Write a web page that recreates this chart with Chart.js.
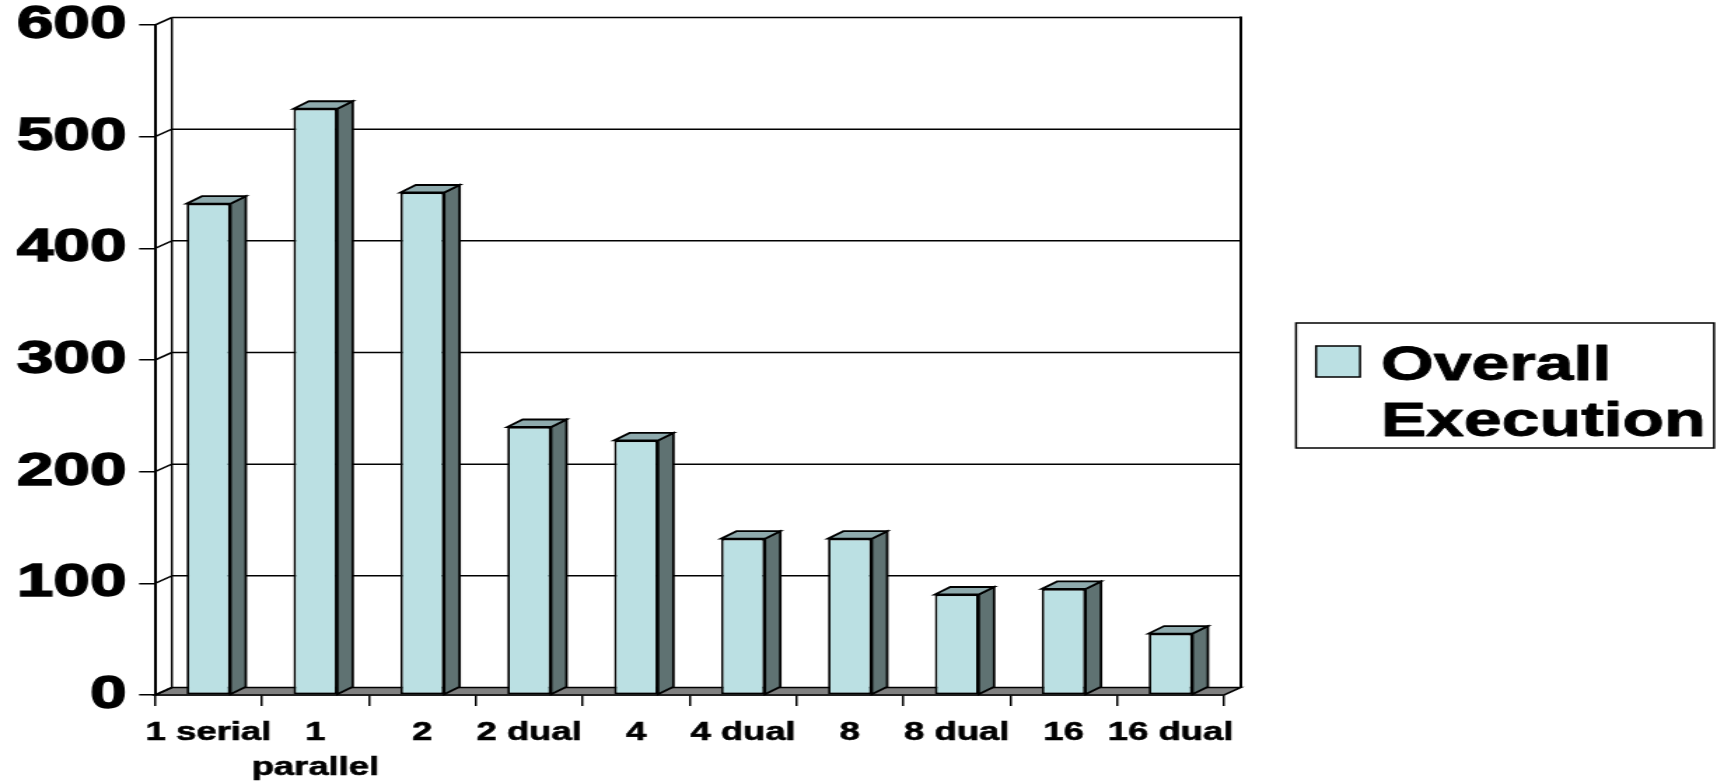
<!DOCTYPE html>
<html>
<head>
<meta charset="utf-8">
<title>Overall Execution</title>
<script src="https://cdn.jsdelivr.net/npm/chart.js@4.4.1/dist/chart.umd.min.js"></script>
<style>
  html, body { margin: 0; padding: 0; background: #ffffff; overflow: hidden; }
  /* the chart is laid out narrow and widened horizontally, like a stretched slide graphic */
  #wrap {
    position: absolute; left: 0; top: 0;
    width: 1226px; height: 782px;
    transform: scaleX(1.40049); transform-origin: 0 0;
  }
</style>
</head>
<body>
<div id="wrap"><canvas id="chart"></canvas></div>
<script>
// ---- data ----
const categories = [['1 serial'], ['1', 'parallel'], ['2'], ['2 dual'], ['4'], ['4 dual'], ['8'], ['8 dual'], ['16'], ['16 dual']];
const executionTimes = [440, 525, 450, 240, 228, 140, 140, 90, 95, 55];
const seriesName = 'Overall Execution';
const yTicks = [0, 100, 200, 300, 400, 500, 600];

// ---- style ----
const FONT = "'Liberation Sans', Arial, sans-serif";
const FRONT = '#bbe0e3';
const SIDE = '#5f7272';
const TOP = '#8eaaad';
const FLOOR = '#808080';
const WALL_DX = 12, WALL_DY = 7.5;   // depth of the back wall
const BAR_DX = 11, BAR_DY = 7.5;     // depth of each bar

function seg(ctx, x1, y1, x2, y2) {
  ctx.beginPath(); ctx.moveTo(x1, y1); ctx.lineTo(x2, y2); ctx.stroke();
}
function face(ctx, pts, fill) {
  ctx.beginPath();
  ctx.moveTo(pts[0][0], pts[0][1]);
  for (let i = 1; i < pts.length; i++) ctx.lineTo(pts[i][0], pts[i][1]);
  ctx.closePath();
  ctx.fillStyle = fill; ctx.fill(); ctx.stroke();
}
// keep the plot frame fixed: labels may overhang the frame edges
function noOverhang(scale) {
  scale.paddingTop = 0; scale.paddingBottom = 0;
  scale.paddingLeft = 0; scale.paddingRight = 0;
}

// floor, back wall and side wall of the 3-D frame, then the bar tops and sides
const depthPlugin = {
  id: 'depth3d',
  beforeDatasetsDraw(chart) {
    const { ctx, chartArea: a, scales: { y } } = chart;
    const y0 = y.getPixelForValue(0);
    const yTop = y.getPixelForValue(y.max);
    ctx.save();
    ctx.strokeStyle = '#000'; ctx.lineWidth = 1.5; ctx.lineJoin = 'miter';
    face(ctx, [[a.left, y0], [a.right, y0], [a.right + WALL_DX, y0 - WALL_DY], [a.left + WALL_DX, y0 - WALL_DY]], FLOOR);
    y.ticks.forEach(t => {
      const py = y.getPixelForValue(t.value);
      seg(ctx, a.left, py, a.left + WALL_DX, py - WALL_DY);
      if (t.value !== 0) seg(ctx, a.left + WALL_DX, py - WALL_DY, a.right + WALL_DX, py - WALL_DY);
    });
    seg(ctx, a.left + WALL_DX, yTop - WALL_DY, a.left + WALL_DX, y0 - WALL_DY);
    ctx.lineWidth = 2;
    seg(ctx, a.right + WALL_DX, yTop - WALL_DY - 1, a.right + WALL_DX, y0 - WALL_DY);
    ctx.restore();
  },
  afterDatasetsDraw(chart) {
    const { ctx } = chart;
    ctx.save();
    ctx.strokeStyle = '#000'; ctx.lineWidth = 1.8; ctx.lineJoin = 'miter';
    chart.getDatasetMeta(0).data.forEach(bar => {
      const { x, y, base, width } = bar.getProps(['x', 'y', 'base', 'width'], true);
      const l = x - width / 2, r = x + width / 2;
      face(ctx, [[r, base], [r, y], [r + BAR_DX, y - BAR_DY], [r + BAR_DX, base - BAR_DY]], SIDE);
      face(ctx, [[l, y], [r, y], [r + BAR_DX, y - BAR_DY], [l + BAR_DX, y - BAR_DY]], TOP);
    });
    ctx.restore();
  }
};

// boxed legend on the right, series name broken over two lines
const boxLegend = {
  id: 'boxLegend',
  afterDraw(chart) {
    const { ctx } = chart;
    const ds = chart.data.datasets[0];
    ctx.save();
    ctx.strokeStyle = '#000'; ctx.lineWidth = 1.5;
    ctx.fillStyle = '#fff';
    ctx.fillRect(925.4, 323, 298.5, 125);
    ctx.strokeRect(925.4, 323, 298.5, 125);
    ctx.fillStyle = ds.backgroundColor;
    ctx.fillRect(939.7, 346, 31.4, 31);
    ctx.strokeRect(939.7, 346, 31.4, 31);
    ctx.fillStyle = '#000';
    ctx.lineWidth = 0.9;
    ctx.lineJoin = 'round';
    ctx.font = 'bold 48.5px ' + FONT;
    ctx.textBaseline = 'alphabetic';
    ctx.textAlign = 'left';
    const words = ds.label.split(' ');
    const lines = [[words[0], 380], [words.slice(1).join(' '), 436]];
    lines.forEach(([txt, by]) => {
      ctx.fillText(txt, 986, by);
      ctx.strokeText(txt, 986, by);
    });
    ctx.restore();
  }
};

new Chart(document.getElementById('chart'), {
  type: 'bar',
  data: {
    labels: categories,
    datasets: [{
      label: seriesName,
      data: executionTimes,
      backgroundColor: FRONT,
      borderColor: '#000',
      borderWidth: 1.8,
      borderSkipped: false,
      barPercentage: 0.41,
      categoryPercentage: 1.0
    }]
  },
  options: {
    responsive: true,
    maintainAspectRatio: false,
    animation: false,
    events: [],
    layout: { autoPadding: false, padding: { left: 0, top: 25, right: 352, bottom: 0 } },
    plugins: { legend: { display: false }, tooltip: { enabled: false }, title: { display: false } },
    scales: {
      x: {
        offset: true,
        grid: { offset: true, drawOnChartArea: false, drawTicks: true, tickLength: 11, color: '#000', lineWidth: 1.5 },
        border: { display: true, color: '#000', width: 1.5 },
        ticks: {
          autoSkip: false, maxRotation: 0, minRotation: 0, padding: 9.5, color: '#000',
          textStrokeColor: '#000', textStrokeWidth: 0.6,
          font: { family: FONT, size: 26, weight: 'bold', lineHeight: '35px' }
        },
        afterFit(scale) { scale.height = 87; noOverhang(scale); }
      },
      y: {
        min: 0, max: 600,
        afterBuildTicks(scale) { scale.ticks = yTicks.map(v => ({ value: v })); },
        grid: { drawOnChartArea: false, drawTicks: true, tickLength: 11.4, color: '#000', lineWidth: 1.5 },
        border: { display: true, color: '#000', width: 2 },
        ticks: {
          padding: 9, color: '#000',
          textStrokeColor: '#000', textStrokeWidth: 1.4,
          font: { family: FONT, size: 47, weight: 'bold' }
        },
        afterFit(scale) { scale.width = 110.7; noOverhang(scale); }
      }
    }
  },
  plugins: [depthPlugin, boxLegend]
});
</script>
</body>
</html>
